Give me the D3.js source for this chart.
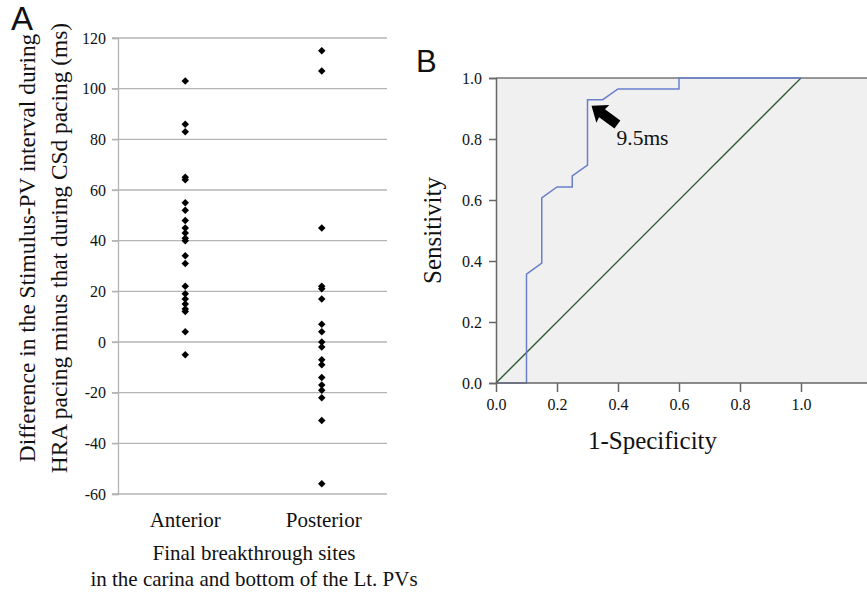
<!DOCTYPE html>
<html>
<head>
<meta charset="utf-8">
<script src="https://cdn.jsdelivr.net/npm/d3@7"></script>
<style>
  body { margin: 0; background: #fff; }
  svg { display: block; }
  text { font-family: "Liberation Serif", "Times New Roman", serif; fill: #111; }
  .panel-letter { font-family: "Liberation Sans", Arial, sans-serif; }
</style>
</head>
<body>
<svg id="chart" width="867" height="593"></svg>
<script>
// ---- panel A data (ms) ----
groups = ["Anterior", "Posterior"];
anteriorValues = [103, 86, 83, 65, 64, 55, 52, 48, 45, 43, 41, 40, 34, 31, 22, 19, 17, 15, 13, 12, 4, -5];
posteriorValues = [115, 107, 45, 22, 21, 17, 7, 4, 0, -2, -7, -9, -14, -17, -19, -22, -31, -56];
yTicksA = [-60, -40, -20, 0, 20, 40, 60, 80, 100, 120];

// ---- panel B data: ROC curve ----
rocFpr = [0, 0.10, 0.10, 0.15, 0.15, 0.20, 0.25, 0.25, 0.30, 0.30, 0.35, 0.40, 0.60, 0.60, 1.0];
rocTpr = [0, 0, 0.357, 0.393, 0.607, 0.643, 0.643, 0.679, 0.714, 0.929, 0.929, 0.964, 0.964, 1.0, 1.0];
ticksB = [0, 0.2, 0.4, 0.6, 0.8, 1.0];
cutoffLabel = "9.5ms";
cutoffPoint = [0.30, 0.929];

var serif = "'Liberation Serif', 'Times New Roman', serif";
var svg = d3.select("#chart");

// ================= Panel A =================
var xA = d3.scalePoint().domain(groups).range([118, 387]).padding(0.5);
var yA = d3.scaleLinear().domain([-60, 120]).range([494, 38]);

var gA = svg.append("g");

// gridlines
gA.selectAll(".grid").data(yTicksA).enter().append("line")
  .attr("x1", 112).attr("x2", 387)
  .attr("y1", d => yA(d)).attr("y2", d => yA(d))
  .attr("stroke", "#b4b4b4").attr("stroke-width", 1.3);

var axisA = gA.append("g")
  .attr("transform", "translate(118,0)")
  .call(d3.axisLeft(yA).tickValues(yTicksA).tickSize(6).tickPadding(6).tickFormat(d => String(d)))
  .attr("font-family", serif).attr("font-size", 16);
axisA.select(".domain").attr("stroke", "#b4b4b4").attr("stroke-width", 1.3);
axisA.selectAll(".tick line").attr("stroke", "#b4b4b4").attr("stroke-width", 1.3);
axisA.selectAll(".tick text").attr("fill", "#222");

var pts = [];
anteriorValues.forEach(v => pts.push({g: "Anterior", v: v}));
posteriorValues.forEach(v => pts.push({g: "Posterior", v: v}));

gA.selectAll(".pt").data(pts).enter().append("path")
  .attr("d", d3.symbol().type(d3.symbolSquare).size(28))
  .attr("transform", d => "translate(" + (xA(d.g) + (d.g == "Posterior" ? 2 : 0)) + "," + yA(d.v) + ") rotate(45)")
  .attr("fill", "#000");

gA.selectAll(".cat").data(groups).enter().append("text")
  .attr("x", d => xA(d) + (d == "Posterior" ? 4 : 0))
  .attr("y", 527)
  .attr("text-anchor", "middle")
  .style("font-size", "21px")
  .text(d => d);

gA.append("text").attr("x", 254).attr("y", 560).attr("text-anchor", "middle")
  .style("font-size", "21px").text("Final breakthrough sites");
gA.append("text").attr("x", 254).attr("y", 586).attr("text-anchor", "middle")
  .style("font-size", "21px").text("in the carina and bottom of the Lt. PVs");

var yLab = gA.append("g").attr("transform", "translate(0,248) rotate(-90)");
yLab.append("text").attr("x", 0).attr("y", 35).attr("text-anchor", "middle")
  .style("font-size", "23.4px").text("Difference in the Stimulus-PV interval during");
yLab.append("text").attr("x", 0).attr("y", 67).attr("text-anchor", "middle")
  .style("font-size", "23.4px").text("HRA pacing minus that during CSd pacing (ms)");

svg.append("text").attr("class", "panel-letter").attr("x", 11).attr("y", 30)
  .style("font-size", "33px").text("A");

// ================= Panel B =================
var xB = d3.scaleLinear().domain([0, 1]).range([496, 801]);
var yB = d3.scaleLinear().domain([0, 1]).range([383, 78]);
var rightEdge = 867;

var gB = svg.append("g");

gB.append("rect")
  .attr("x", xB(0)).attr("y", yB(1))
  .attr("width", rightEdge - xB(0)).attr("height", yB(0) - yB(1))
  .attr("fill", "#f0f0f0");

gB.append("line")
  .attr("x1", xB(0)).attr("x2", rightEdge)
  .attr("y1", yB(1)).attr("y2", yB(1))
  .attr("stroke", "#777").attr("stroke-width", 1.5);

// reference diagonal
gB.append("line")
  .attr("x1", xB(0)).attr("y1", yB(0)).attr("x2", xB(1)).attr("y2", yB(1))
  .attr("stroke", "#2f5a34").attr("stroke-width", 1.3);

var roc = rocFpr.map((f, i) => [f, rocTpr[i]]);
gB.append("path")
  .datum(roc)
  .attr("d", d3.line().x(d => xB(d[0])).y(d => yB(d[1])))
  .attr("fill", "none").attr("stroke", "#6a7fcc").attr("stroke-width", 1.5);

// axes
var axBx = gB.append("g").attr("transform", "translate(0," + yB(0) + ")")
  .call(d3.axisBottom(xB).tickValues(ticksB).tickFormat(d3.format(".1f")).tickSize(9).tickPadding(7));
axBx.select(".domain").attr("d", "M" + xB(0) + ",0H" + rightEdge);
var axBy = gB.append("g").attr("transform", "translate(" + xB(0) + ",0)")
  .call(d3.axisLeft(yB).tickValues(ticksB).tickFormat(d3.format(".1f")).tickSize(7).tickPadding(7));
[axBx, axBy].forEach(a => {
  a.attr("font-family", serif).attr("font-size", 16);
  a.select(".domain").attr("stroke", "#666").attr("stroke-width", 1.5);
  a.selectAll(".tick line").attr("stroke", "#666").attr("stroke-width", 1.5);
  a.selectAll(".tick text").attr("fill", "#222");
});

// arrow pointing at the cut-off
var tip = [xB(cutoffPoint[0]) + 4, yB(cutoffPoint[1]) + 6];
var arrowShape = [[0, 0], [14, -11], [13, -5], [32, -5], [32, 5], [13, 5], [14, 11]];
gB.append("path")
  .attr("d", d3.line()(arrowShape) + "Z")
  .attr("transform", "translate(" + tip[0] + "," + tip[1] + ") rotate(36)")
  .attr("fill", "#000");

gB.append("text").attr("x", tip[0] + 25).attr("y", tip[1] + 39)
  .style("font-size", "21.5px").text(cutoffLabel);

gB.append("text").attr("transform", "translate(441," + yB(0.5) + ") rotate(-90)")
  .attr("text-anchor", "middle").style("font-size", "25px").text("Sensitivity");
gB.append("text").attr("x", xB(0.5) + 4).attr("y", 449)
  .attr("text-anchor", "middle").style("font-size", "25px").text("1-Specificity");

svg.append("text").attr("class", "panel-letter").attr("x", 416).attr("y", 72)
  .style("font-size", "31px").text("B");
</script>
</body>
</html>
